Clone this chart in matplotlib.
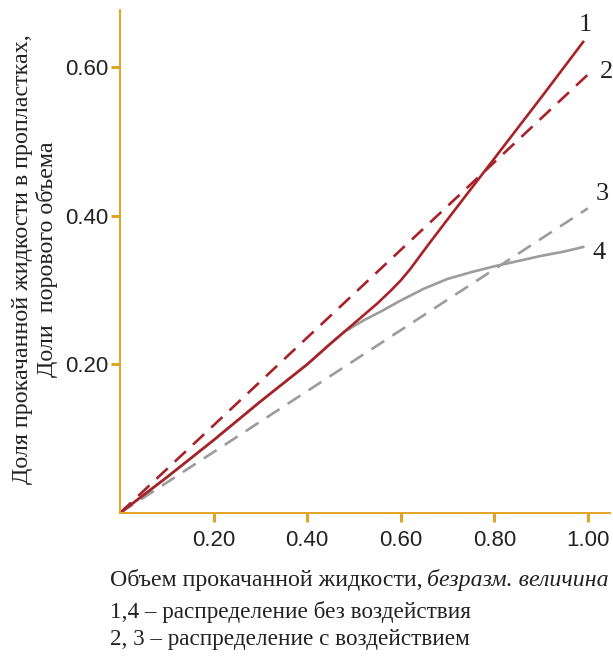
import matplotlib
matplotlib.use('Agg')
import matplotlib.pyplot as plt

# curve 1: solid red (no treatment)
x1 = [0.0, 0.1, 0.2, 0.3, 0.4, 0.45, 0.5, 0.55, 0.58, 0.6, 0.62, 0.64, 0.66, 0.7, 0.8, 0.9, 0.99]
y1 = [0.0, 0.048, 0.098, 0.150, 0.200, 0.228, 0.255, 0.282, 0.300, 0.313, 0.328, 0.345, 0.362, 0.395, 0.477, 0.559, 0.634]
# curve 2: dashed red (with treatment)
x2 = [0.0, 1.0]
y2 = [0.0, 0.59]
# curve 3: dashed gray (with treatment)
x3 = [0.0, 1.0]
y3 = [0.0, 0.41]
# curve 4: solid gray (no treatment)
x4 = [0.0, 0.1, 0.2, 0.3, 0.4, 0.42, 0.45, 0.48, 0.52, 0.56, 0.6, 0.65, 0.7, 0.75, 0.8, 0.85, 0.9, 0.95, 0.99]
y4 = [0.0, 0.048, 0.098, 0.150, 0.200, 0.211, 0.228, 0.244, 0.259, 0.272, 0.286, 0.302, 0.315, 0.324, 0.332, 0.339, 0.346, 0.352, 0.358]

xticks = [0.2, 0.4, 0.6, 0.8, 1.0]
yticks = [0.2, 0.4, 0.6]

red = '#a82228'
gray = '#9c9c9c'
gold = '#e0a422'
ink = '#222222'
serif = ['Liberation Serif', 'DejaVu Serif']
sans = ['Liberation Sans', 'DejaVu Sans']

plt.rcParams['lines.scale_dashes'] = False

fig = plt.figure(figsize=(6.13, 6.57), dpi=100)
ax = fig.add_axes([0.1958, 0.2192, 0.799, 0.7656])

ax.plot(x4, y4, color=gray, lw=1.9)
ax.plot(x3, y3, color=gray, lw=1.9, linestyle=(0, (11, 7)))
ax.plot(x2, y2, color=red, lw=1.9, linestyle=(0, (11, 7)))
ax.plot(x1, y1, color=red, lw=1.9)

ax.set_xlim(0, 1.047)
ax.set_ylim(0, 0.677)
ax.set_xticks(xticks)
ax.set_yticks(yticks)
ax.set_xticklabels(['%.2f' % v for v in xticks], family=sans, fontsize=16)
ax.set_yticklabels(['%.2f' % v for v in yticks], family=sans, fontsize=16)
ax.tick_params(axis='both', direction='out', length=6.5, width=2.2, color=gold,
               labelcolor=ink)
ax.tick_params(axis='y', pad=2)
ax.tick_params(axis='x', pad=6)

for s in ['top', 'right']:
    ax.spines[s].set_visible(False)
for s in ['left', 'bottom']:
    ax.spines[s].set_color(gold)
    ax.spines[s].set_linewidth(1.4)

# curve numbers
for lbl, xv, yv in [('1', 0.995, 0.657), ('2', 1.04, 0.594), ('3', 1.03, 0.43), ('4', 1.025, 0.35)]:
    ax.text(xv, yv, lbl, family=serif, fontsize=19, color=ink,
            ha='center', va='center', clip_on=False)

fig.text(0.057, 0.605, 'Доля прокачанной жидкости в пропластках,\nДоли  порового объема',
         rotation=90, family=serif, fontsize=17.3, color=ink,
         ha='center', va='center', linespacing=1.22)

t = fig.text(0.179, 0.117, 'Объем прокачанной жидкости,', family=serif, fontsize=17.2,
             color=ink, ha='left', va='center')
r = fig.canvas.get_renderer()
bb = t.get_window_extent(renderer=r)
fig.text((bb.x1 + 5) / fig.bbox.width, 0.117, 'безразм. величина', family=serif,
         fontsize=17.2, style='italic', color=ink, ha='left', va='center')
fig.text(0.179, 0.069, '1,4 – распределение без воздействия', family=serif, fontsize=16.7,
         color=ink, ha='left', va='center')
fig.text(0.179, 0.027, '2, 3 – распределение с воздействием', family=serif, fontsize=16.7,
         color=ink, ha='left', va='center')

fig.savefig('out.png', dpi=100)
